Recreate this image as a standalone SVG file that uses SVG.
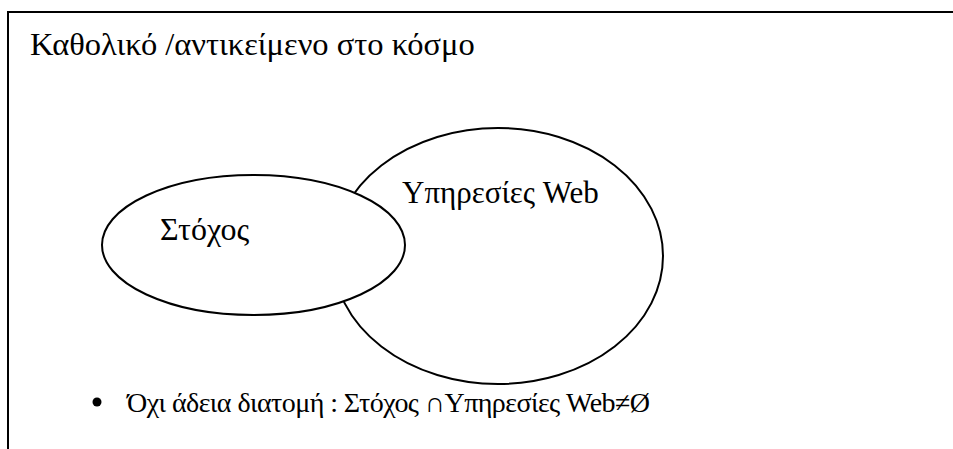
<svg xmlns="http://www.w3.org/2000/svg" width="953" height="449" viewBox="0 0 953 449">
  <style>
    .lbl { font-family: "Liberation Serif", "Times New Roman", serif; font-size: 32px; fill: #000; }
    .note { font-size: 28px; }
    .set { fill: #fff; stroke: #000; stroke-width: 2; }
    .frame { fill: none; stroke: #000; stroke-width: 2; }
  </style>
  <rect width="953" height="449" fill="#fff"/>
  <!-- outer frame (continues past the right and bottom edges) -->
  <path class="frame" d="M8 449 V12 H953"/>
  <text class="lbl" x="30" y="55" style="font-size:32.5px">Καθολικό /αντικείμενο στο κόσμο</text>
  <g id="web-services">
    <ellipse class="set" cx="498" cy="256" rx="165" ry="128"/>
    <text class="lbl" x="402" y="203" style="font-size:31px">Υπηρεσίες Web</text>
  </g>
  <g id="goal">
    <ellipse class="set" cx="253.5" cy="245" rx="151.5" ry="70"/>
    <text class="lbl" x="160" y="240">Στόχος</text>
  </g>
  <g id="note">
    <circle cx="97" cy="402" r="4.5" fill="#000"/>
    <text class="lbl note" x="127" y="412" textLength="523">Όχι άδεια διατομή : Στόχος ∩Υπηρεσίες Web≠Ø</text>
  </g>
  <g id="connectors"/>
</svg>
